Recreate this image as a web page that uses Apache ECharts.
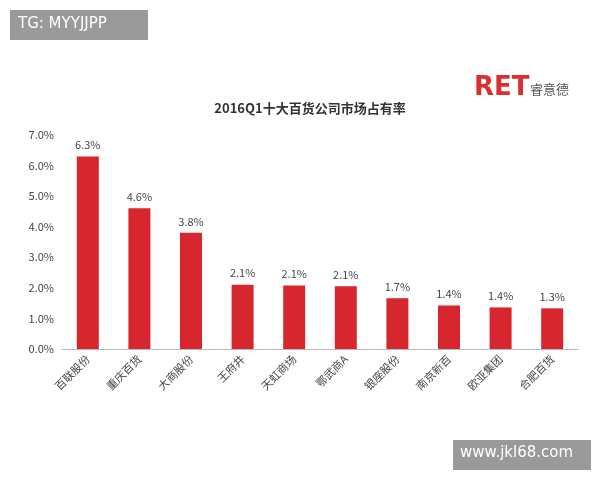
<!DOCTYPE html>
<html>
<head>
<meta charset="utf-8">
<script src="https://cdn.jsdelivr.net/npm/echarts@6/dist/echarts.min.js"></script>
<style>html,body{margin:0;background:#fff}#chart{width:600px;height:480px}</style>
</head>
<body>
<div id="chart"></div>
<script>
const categories = ['百联股份', '重庆百货', '大商股份', '王府井', '天虹商场', '鄂武商A', '银座股份', '南京新百', '欧亚集团', '合肥百货']
const values = [6.3, 4.6, 3.8, 2.1, 2.08, 2.05, 1.66, 1.42, 1.36, 1.33]
const valueLabels = ['6.3%', '4.6%', '3.8%', '2.1%', '2.1%', '2.1%', '1.7%', '1.4%', '1.4%', '1.3%']

const font = '"Noto Sans CJK SC", sans-serif'
const chart = echarts.init(document.getElementById('chart'))
chart.setOption({
  backgroundColor: '#fff',
  title: {
    text: '2016Q1十大百货公司市场占有率',
    left: 305, top: 97, textAlign: 'center',
    textStyle: { fontSize: 13, fontWeight: 'bold', color: '#333', fontFamily: font }
  },
  graphic: [
    { type: 'rect', left: 10, top: 10, shape: { width: 138, height: 30 }, style: { fill: '#9a9a9a' } },
    { type: 'text', left: 18, top: 17, style: { text: 'TG: MYYJJPP', fill: '#fff', font: '15px "DejaVu Sans", sans-serif' } },
    { type: 'rect', left: 453, top: 440, shape: { width: 138, height: 30 }, style: { fill: '#9a9a9a' } },
    { type: 'text', left: 460, top: 446, style: { text: 'www.jkl68.com', fill: '#fff', font: '15px "DejaVu Sans", sans-serif' } },
    { type: 'text', left: 474, top: 75, style: { text: 'RET', fill: '#d9302f', font: 'bold 26px "DejaVu Sans", sans-serif' } },
    { type: 'text', left: 530, top: 83, style: { text: '睿意德', fill: '#555', font: '13px "Noto Sans CJK SC", sans-serif' } }
  ],
  grid: { left: 62, right: 22, top: 135, bottom: 131 },
  xAxis: {
    type: 'category', data: categories,
    axisLine: { lineStyle: { color: '#bbb' } },
    axisTick: { show: false },
    axisLabel: { rotate: 45, color: '#444', fontSize: 11, fontFamily: font, interval: 0, margin: 8 }
  },
  yAxis: {
    type: 'value', min: 0, max: 7, interval: 1,
    splitLine: { show: false },
    axisLine: { show: false },
    axisLabel: { formatter: v => v.toFixed(1) + '%', color: '#444', fontSize: 11, fontFamily: font }
  },
  series: [{
    type: 'bar', data: values, barWidth: 22,
    itemStyle: { color: '#d7262d' },
    label: {
      show: true, position: 'top', distance: 6, color: '#444', fontSize: 11, fontFamily: font,
      formatter: p => valueLabels[p.dataIndex]
    }
  }]
})
</script>
</body>
</html>
